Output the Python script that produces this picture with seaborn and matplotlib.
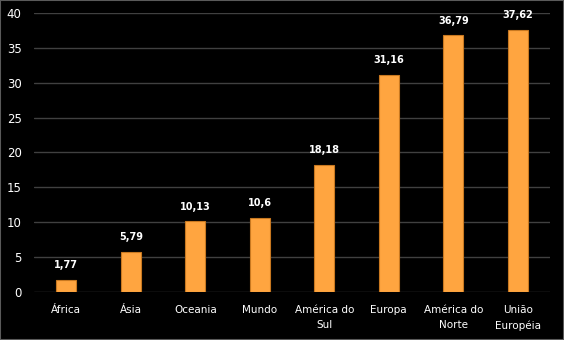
import matplotlib
matplotlib.use("Agg")
import matplotlib.pyplot as plt
import seaborn as sns
import pandas as pd

regioes = ["África", "Ásia", "Oceania", "Mundo", "América do\nSul", "Europa",
           "América do\nNorte", "União\nEuropéia"]
valores = [1.77, 5.79, 10.13, 10.6, 18.18, 31.16, 36.79, 37.62]
rotulos = ["1,77", "5,79", "10,13", "10,6", "18,18", "31,16", "36,79", "37,62"]
yticks = [0, 5, 10, 15, 20, 25, 30, 35, 40]

df = pd.DataFrame({"regiao": regioes, "valor": valores})

sns.set_style("dark")
plt.rcParams["font.family"] = ["DejaVu Sans"]

fig = plt.figure(figsize=(5.64, 3.40), dpi=100, facecolor="black")
ax = fig.add_axes([0.0603, 0.141, 0.915, 0.821])
ax.set_facecolor("black")

sns.barplot(data=df, x="regiao", y="valor", color="#FFA540", width=0.31,
            edgecolor="#C87820", linewidth=0.8, saturation=1, ax=ax)

for i, (v, t) in enumerate(zip(valores, rotulos)):
    ax.text(i, v + 1.4, t, ha="center", va="bottom", color="white",
            fontsize=7, fontweight="bold")

ax.set_ylim(0, 40)
ax.set_xlim(-0.5, len(regioes) - 0.5)
ax.set_yticks(yticks)
ax.set_yticklabels([str(y) for y in yticks], color="white", fontsize=8.5)
ax.set_xticks(range(len(regioes)))
ax.set_xticklabels(regioes, color="white", fontsize=7.5, linespacing=1.7)
ax.tick_params(axis="y", length=0, pad=9)
ax.tick_params(axis="x", length=0, pad=9)
ax.set_xlabel("")
ax.set_ylabel("")
ax.grid(axis="y", color="#404040", linewidth=1)
ax.grid(axis="x", visible=False)
ax.set_axisbelow(True)
for s in ax.spines.values():
    s.set_visible(False)

fig.patches.append(plt.Rectangle((0, 0), 1, 1, transform=fig.transFigure,
                                 fill=False, edgecolor="#5a5a5a", linewidth=1.5))

fig.savefig("out.png", dpi=100, facecolor="black")
